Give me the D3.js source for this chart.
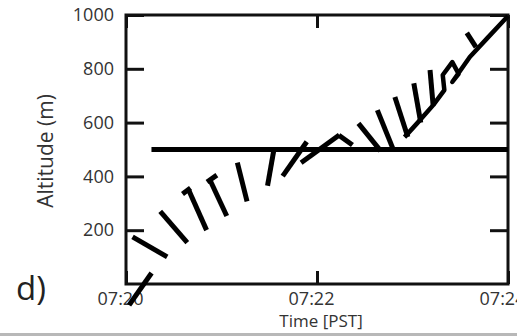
<!DOCTYPE html>
<html>
<head>
<meta charset="utf-8">
<script src="https://cdn.jsdelivr.net/npm/d3@7"></script>
<style>
  body { margin: 0; background: #fff; }
  svg { display: block; }
  .axis text { font-family: "Open Sans", sans-serif; font-size: 18px; fill: #333; }
  .axis line { stroke: #111; stroke-width: 3; }
</style>
</head>
<body>
<div id="chart"></div>
<script>
// Stick plot data: time, altitude of stick centre, direction (deg from vertical), speed
const stickTimes = ["07:20:09", "07:20:15", "07:20:30", "07:20:38", "07:20:45", "07:20:54",
                    "07:20:58", "07:21:13", "07:21:31", "07:21:46", "07:22:02", "07:22:18",
                    "07:22:33", "07:22:43", "07:22:53", "07:23:03", "07:23:12", "07:23:37"];
const stickAltitudes = [-19, 138, 212, 346, 275, 392, 320, 379, 435, 465, 502, 535,
                        546, 572, 621, 673, 729, 907];
const stickDirections = [35, -60, -41, 53, -24, 55, -25, -14, 10, 35, 54, -54,
                         -39, -22, -18, -10, -5, -33];
const stickSpeeds = [9.8, 10, 10.3, 2.5, 11, 3, 10, 10, 9.5, 10.5, 11.8, 4.2,
                     8.8, 10.8, 10.5, 10, 9, 4.2];

// flight track near the top of the profile
const trackTimes = ["07:22:55", "07:23:03", "07:23:13", "07:23:20", "07:23:19", "07:23:25",
                    "07:23:29", "07:23:25", "07:23:36", "07:23:47", "07:24:00"];
const trackAltitudes = [546, 598, 665, 721, 777, 825, 781, 751, 844, 914, 996];

const refAltitude = 500;
const refStart = "07:20:16";

const timeTicks = ["07:20", "07:22", "07:24"];
const altTicks = [200, 400, 600, 800, 1000];

const width = 517, height = 336;
const margin = { top: 15, right: 9, bottom: 52, left: 126 };

const parseT = d3.timeParse("%H:%M:%S");
const parseHM = d3.timeParse("%H:%M");

const svg = d3.select("#chart").append("svg")
    .attr("width", width)
    .attr("height", height);

const x = d3.scaleTime()
    .domain([parseHM("07:20"), parseHM("07:24")])
    .range([margin.left, width - margin.right]);

const y = d3.scaleLinear()
    .domain([0, 1000])
    .range([height - margin.bottom, margin.top]);

const speedLen = d3.scaleLinear().domain([0, 10]).range([0, 40]);

// axes
svg.append("g")
    .attr("class", "axis")
    .attr("transform", `translate(${margin.left},0)`)
    .call(d3.axisLeft(y).tickValues(altTicks).tickSize(-18).tickSizeOuter(0)
        .tickPadding(12).tickFormat(d3.format("d")))
    .call(g => g.select(".domain").remove());

svg.append("g")
    .attr("class", "axis")
    .attr("transform", `translate(${width - margin.right},0)`)
    .call(d3.axisRight(y).tickValues(altTicks).tickSize(-18).tickSizeOuter(0).tickFormat(""))
    .call(g => g.select(".domain").remove());

svg.append("g")
    .attr("class", "axis")
    .attr("transform", `translate(0,${height - margin.bottom})`)
    .call(d3.axisBottom(x).tickValues(timeTicks.map(parseHM)).tickSize(-13).tickSizeOuter(0)
        .tickPadding(8).tickFormat(d3.timeFormat("%H:%M")))
    .call(g => g.select(".domain").remove())
    .call(g => g.selectAll("text").attr("dx", -6));

svg.append("g")
    .attr("class", "axis")
    .attr("transform", `translate(0,${margin.top})`)
    .call(d3.axisTop(x).tickValues(timeTicks.map(parseHM)).tickSize(-13).tickSizeOuter(0).tickFormat(""))
    .call(g => g.select(".domain").remove());

// frame
svg.append("rect")
    .attr("x", margin.left)
    .attr("y", margin.top)
    .attr("width", width - margin.right - margin.left)
    .attr("height", height - margin.bottom - margin.top)
    .attr("fill", "none")
    .attr("stroke", "#111")
    .attr("stroke-width", 3);

// reference altitude line
svg.append("line")
    .attr("x1", x(parseT(refStart)))
    .attr("x2", x.range()[1])
    .attr("y1", y(refAltitude))
    .attr("y2", y(refAltitude))
    .attr("stroke", "#000")
    .attr("stroke-width", 5);

// sticks
const sticks = stickTimes.map((t, i) => ({
    t: parseT(t), alt: stickAltitudes[i], dir: stickDirections[i], speed: stickSpeeds[i]
}));

svg.append("g").selectAll("line")
    .data(sticks)
    .join("line")
    .each(function (d) {
        const cx = x(d.t), cy = y(d.alt);
        const half = speedLen(d.speed) / 2;
        const a = d.dir * Math.PI / 180;
        d3.select(this)
            .attr("x1", cx - half * Math.sin(a))
            .attr("y1", cy + half * Math.cos(a))
            .attr("x2", cx + half * Math.sin(a))
            .attr("y2", cy - half * Math.cos(a));
    })
    .attr("stroke", "#000")
    .attr("stroke-width", 5);

// track
const track = trackTimes.map((t, i) => [x(parseT(t)), y(trackAltitudes[i])]);
svg.append("path")
    .attr("d", d3.line().curve(d3.curveLinear)(track))
    .attr("fill", "none")
    .attr("stroke", "#000")
    .attr("stroke-width", 4.5)
    .attr("stroke-linejoin", "round");

// labels
svg.append("text")
    .attr("transform", "translate(53,151) rotate(-90)")
    .attr("text-anchor", "middle")
    .style("font-family", "'Open Sans', sans-serif")
    .style("font-size", "21px")
    .style("fill", "#333")
    .text("Altitude (m)");

svg.append("text")
    .attr("x", 321)
    .attr("y", 327)
    .attr("text-anchor", "middle")
    .style("font-family", "'Open Sans', sans-serif")
    .style("font-size", "17px")
    .style("fill", "#333")
    .text("Time [PST]");

svg.append("text")
    .attr("x", 16)
    .attr("y", 300)
    .style("font-family", "'Open Sans', sans-serif")
    .style("font-size", "33px")
    .style("fill", "#222")
    .text("d)");

// strip of the next panel at the bottom edge
svg.append("rect")
    .attr("x", 0).attr("y", 333)
    .attr("width", width).attr("height", 3)
    .attr("fill", "#b8b8b8");
</script>
</body>
</html>
